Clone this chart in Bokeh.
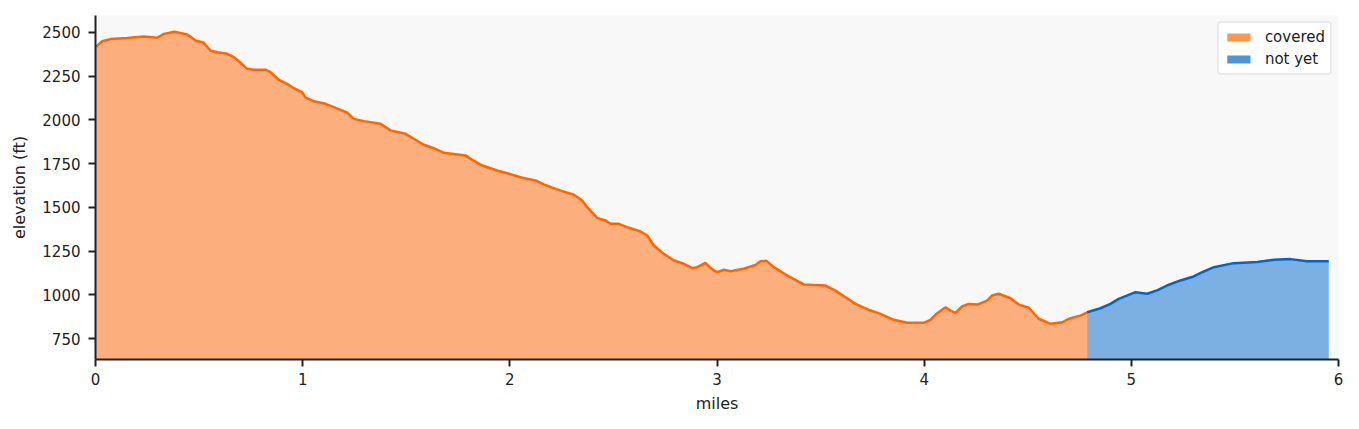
from bokeh.plotting import figure
from bokeh.models import Legend, LegendItem, Range1d, FixedTicker
from bokeh.embed import file_html
from bokeh.resources import INLINE

# elevation profile, split where we are now
covered_miles = [0.0, 0.032, 0.072, 0.153, 0.233, 0.298, 0.33, 0.381, 0.443, 0.483,
                 0.52, 0.555, 0.587, 0.636, 0.668, 0.7, 0.732, 0.764, 0.82, 0.845,
                 0.885, 0.925, 0.957, 0.997, 1.014, 1.054, 1.11, 1.15, 1.215, 1.247,
                 1.295, 1.376, 1.424, 1.496, 1.536, 1.585, 1.633, 1.681, 1.786, 1.818,
                 1.867, 1.939, 1.987, 2.06, 2.124, 2.164, 2.221, 2.269, 2.309, 2.349,
                 2.373, 2.422, 2.462, 2.486, 2.526, 2.566, 2.631, 2.663, 2.695, 2.743,
                 2.792, 2.832, 2.88, 2.904, 2.944, 2.968, 3.0, 3.033, 3.065, 3.129,
                 3.186, 3.21, 3.239, 3.274, 3.339, 3.419, 3.524, 3.572, 3.62, 3.669,
                 3.741, 3.789, 3.853, 3.918, 3.998, 4.03, 4.055, 4.103, 4.127, 4.151,
                 4.183, 4.215, 4.256, 4.304, 4.328, 4.36, 4.417, 4.457, 4.505, 4.553,
                 4.61, 4.666, 4.698, 4.754, 4.787]
covered_elev = [2416, 2450, 2462, 2468, 2477, 2470, 2492, 2504, 2489, 2454,
                2443, 2397, 2387, 2378, 2359, 2327, 2292, 2287, 2287, 2273,
                2229, 2206, 2181, 2159, 2127, 2107, 2092, 2073, 2042, 2006,
                1993, 1978, 1940, 1921, 1892, 1858, 1838, 1812, 1797, 1772,
                1739, 1711, 1695, 1669, 1654, 1631, 1606, 1587, 1572, 1539,
                1501, 1440, 1425, 1406, 1406, 1387, 1362, 1339, 1282, 1234,
                1196, 1181, 1152, 1158, 1183, 1154, 1129, 1143, 1135, 1149,
                1171, 1192, 1194, 1158, 1110, 1059, 1053, 1024, 986, 948,
                910, 891, 857, 840, 840, 857, 887, 929, 910, 897,
                933, 948, 944, 967, 996, 1006, 980, 944, 926, 863,
                834, 843, 863, 881, 900]

remaining_miles = [4.787, 4.851, 4.899, 4.939, 5.02, 5.076, 5.124, 5.172, 5.237,
                   5.301, 5.342, 5.398, 5.494, 5.607, 5.688, 5.768, 5.849, 5.953]
remaining_elev = [900, 923, 948, 977, 1015, 1006, 1025, 1053, 1082,
                  1105, 1129, 1158, 1181, 1187, 1200, 1204, 1192, 1192]

x_ticks = [0, 1, 2, 3, 4, 5, 6]
y_ticks = [750, 1000, 1250, 1500, 1750, 2000, 2250, 2500]
y_min, y_max = 630, 2597

ORANGE = "#ff6600"
BLUE = "#0066cc"
FONT = "DejaVu Sans"
nan = float("nan")

p = figure(frame_width=1243, frame_height=344, output_backend="svg",
           toolbar_location=None,
           x_range=Range1d(0, 6), y_range=Range1d(y_min, y_max),
           min_border_left=95, min_border_right=5, min_border_top=15,
           min_border_bottom=54)

p.background_fill_color = "#f8f8f8"
p.border_fill_color = "white"
p.outline_line_color = None
p.grid.visible = False

p.varea(x=covered_miles, y1=y_min, y2=covered_elev, fill_color=ORANGE, fill_alpha=0.5)
p.line(covered_miles, covered_elev, line_color=ORANGE, line_width=2.5)
p.varea(x=remaining_miles, y1=y_min, y2=remaining_elev, fill_color=BLUE, fill_alpha=0.5)
p.line(remaining_miles, remaining_elev, line_color=BLUE, line_width=2.5)

# legend swatches are a bit stronger than the area fill (nothing drawn in the plot)
sw1 = p.quad(left=[nan], right=[nan], top=[nan], bottom=[nan],
             fill_color=ORANGE, fill_alpha=0.7, line_color=None)
sw2 = p.quad(left=[nan], right=[nan], top=[nan], bottom=[nan],
             fill_color=BLUE, fill_alpha=0.7, line_color=None)

legend = Legend(items=[LegendItem(label="covered", renderers=[sw1]),
                       LegendItem(label="not yet", renderers=[sw2])],
                location="top_right")
legend.margin = 6
legend.padding = 5
legend.spacing = 4
legend.glyph_width = 29
legend.glyph_height = 10
legend.label_height = 18
legend.label_standoff = 12
legend.label_text_font = FONT
legend.label_text_font_size = "15px"
legend.label_text_color = "#222222"
legend.border_line_color = "#d4d4d4"
legend.border_line_width = 2
legend.border_radius = 4
legend.background_fill_color = "white"
legend.background_fill_alpha = 1.0
p.add_layout(legend)

p.xaxis.ticker = FixedTicker(ticks=x_ticks)
p.yaxis.ticker = FixedTicker(ticks=y_ticks)
p.xaxis.axis_label = "miles"
p.yaxis.axis_label = "elevation (ft)"

for ax in (p.xaxis, p.yaxis):
    ax.axis_line_color = "#222222"
    ax.axis_line_width = 2
    ax.major_tick_line_color = "#222222"
    ax.major_tick_line_width = 2
    ax.major_tick_in = 0
    ax.major_tick_out = 7
    ax.minor_tick_line_color = None
    ax.major_label_text_font = FONT
    ax.major_label_text_font_size = "15px"
    ax.major_label_text_color = "#222222"
    ax.axis_label_text_font = FONT
    ax.axis_label_text_font_size = "16px"
    ax.axis_label_text_font_style = "normal"
    ax.axis_label_text_color = "#222222"

p.yaxis.major_label_standoff = 8
p.yaxis.axis_label_standoff = 10
p.xaxis.major_label_standoff = 6
p.xaxis.axis_label_standoff = 6

open("out.html", "w").write(file_html(p, INLINE))
